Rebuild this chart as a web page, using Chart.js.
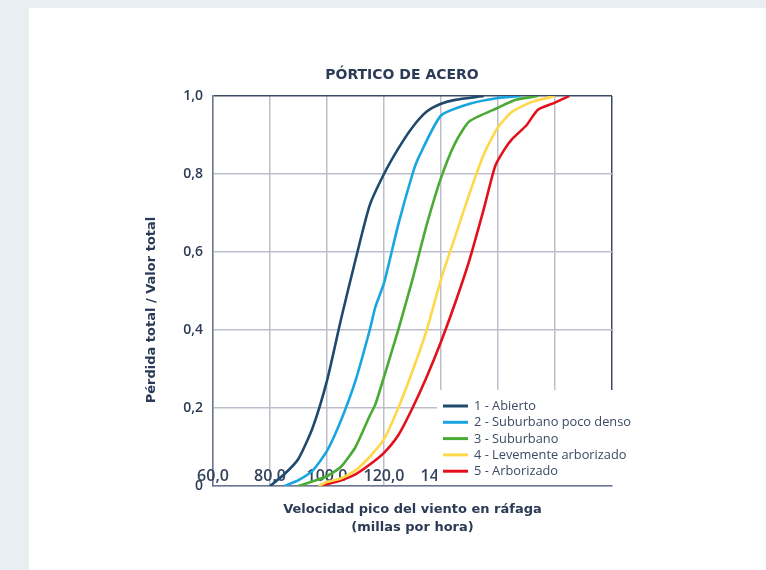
<!DOCTYPE html>
<html>
<head>
<meta charset="utf-8">
<script src="https://cdn.jsdelivr.net/npm/chart.js@4.4.0/dist/chart.umd.min.js"></script>
<style>
  body { margin: 0; background: #e9eef2; }
  #card { position: absolute; left: 29px; top: 8px; width: 737px; height: 562px; background: #fff; }
</style>
</head>
<body>
<div id="card"><canvas id="chart" width="737" height="562"></canvas></div>
<script>
// series labels and colours
const seriesLabels = ['1 - Abierto', '2 - Suburbano poco denso', '3 - Suburbano', '4 - Levemente arborizado', '5 - Arborizado'];
const seriesColors = ['#1f4a6e', '#18a5e0', '#4aab34', '#ffd84a', '#e3101b'];

// wind speed (mph) and loss ratio
const abiertoX = [80, 85, 90, 95, 100, 105, 110, 115, 120, 125, 130, 135, 140, 145, 155];
const abiertoY = [0, 0.03, 0.07, 0.15, 0.27, 0.43, 0.58, 0.72, 0.80, 0.865, 0.92, 0.96, 0.98, 0.99, 1.0];

const pocoDensoX = [85, 90, 95, 100, 105, 110, 115, 117, 120, 125, 130, 132, 140, 150, 160, 168];
const pocoDensoY = [0, 0.015, 0.04, 0.09, 0.17, 0.27, 0.40, 0.46, 0.52, 0.67, 0.80, 0.84, 0.95, 0.98, 0.995, 1.0];

const suburbanoX = [90, 95, 100, 105, 110, 115, 117, 120, 125, 130, 135, 140, 145, 150, 160, 166, 174];
const suburbanoY = [0, 0.012, 0.025, 0.05, 0.10, 0.18, 0.21, 0.28, 0.40, 0.53, 0.67, 0.79, 0.88, 0.935, 0.97, 0.99, 1.0];

const levementeX = [97, 100, 105, 110, 115, 120, 125, 130, 135, 140, 145, 150, 155, 160, 165, 172, 180];
const levementeY = [0, 0.01, 0.02, 0.04, 0.075, 0.12, 0.20, 0.295, 0.40, 0.53, 0.64, 0.75, 0.85, 0.92, 0.96, 0.985, 1.0];

const arborizadoX = [98, 100, 105, 110, 115, 120, 125, 130, 135, 140, 145, 150, 155, 159, 162, 165, 170, 174, 180, 185];
const arborizadoY = [0, 0.005, 0.015, 0.03, 0.055, 0.085, 0.13, 0.20, 0.28, 0.37, 0.47, 0.58, 0.71, 0.82, 0.86, 0.89, 0.925, 0.965, 0.983, 1.0];

const xTicks = [60, 80, 100, 120, 140, 160, 180, 200];
const yTicks = [0, 0.2, 0.4, 0.6, 0.8, 1.0];

const seriesX = [abiertoX, pocoDensoX, suburbanoX, levementeX, arborizadoX];
const seriesY = [abiertoY, pocoDensoY, suburbanoY, levementeY, arborizadoY];

const chartTitle = 'PÓRTICO DE ACERO';
const yTitle = 'Pérdida total / Valor total';

const navy = '#2b3a55';
const gridColor = '#bdbdcc';
const axisColor = '#6b7790';
const fmt = v => v.toFixed(1).replace('.', ',');

const datasets = seriesLabels.map((lab, i) => ({
  label: lab,
  data: seriesX[i].map((x, j) => ({ x: x, y: seriesY[i][j] })),
  borderColor: seriesColors[i],
  backgroundColor: seriesColors[i],
  borderWidth: 2.6,
  pointRadius: 0,
  tension: 0.2,
  fill: false
}));

// title, y title and x tick labels (these sit inside the plot, under the curves)
const innerTexts = {
  id: 'innerTexts',
  beforeDatasetsDraw(chart) {
    const ctx = chart.ctx;
    const sx = chart.scales.x;
    ctx.save();
    ctx.fillStyle = navy;
    ctx.textAlign = 'center';
    ctx.textBaseline = 'middle';
    ctx.font = 'bold 14px "DejaVu Sans"';
    ctx.fillText(chartTitle, 373, 67);

    ctx.save();
    ctx.translate(123, 302);
    ctx.rotate(-Math.PI / 2);
    ctx.font = 'bold 13px "DejaVu Sans"';
    ctx.fillText(yTitle, 0, 0);
    ctx.restore();

    ctx.fillStyle = '#34425c';
    ctx.font = '600 16px "Open Sans"';
    ctx.textBaseline = 'alphabetic';
    sx.ticks.forEach(t => {
      ctx.fillText(fmt(t.value), sx.getPixelForValue(t.value), chart.chartArea.bottom - 5);
    });
    ctx.restore();
  }
};

// legend drawn over the lower right of the plot, with a white box
const boxLegend = {
  id: 'boxLegend',
  afterDraw(chart) {
    const ctx = chart.ctx;
    ctx.save();
    ctx.fillStyle = '#fff';
    ctx.fillRect(408, 382, 215, 95);
    ctx.font = '12.8px "Open Sans"';
    ctx.textBaseline = 'middle';
    chart.data.datasets.forEach((ds, i) => {
      const y = 398 + i * 16.3;
      ctx.strokeStyle = ds.borderColor;
      ctx.lineWidth = 3;
      ctx.beginPath();
      ctx.moveTo(414, y);
      ctx.lineTo(439, y);
      ctx.stroke();
      ctx.fillStyle = '#3c4a63';
      ctx.fillText(ds.label, 445, y + 0.5);
    });
    ctx.restore();
  }
};

new Chart(document.getElementById('chart'), {
  type: 'line',
  data: { datasets: datasets },
  options: {
    responsive: false,
    animation: false,
    layout: { padding: { left: 114, right: 154, top: 88, bottom: 33 } },
    plugins: {
      legend: { display: false },
      tooltip: { enabled: false },
      title: { display: false }
    },
    scales: {
      x: {
        type: 'linear',
        min: 60,
        max: 200,
        afterBuildTicks: s => { s.ticks = xTicks.map(v => ({ value: v })); },
        afterFit: s => { s.height = 51; },
        ticks: { display: false },
        grid: {
          color: ctx => ctx.tick && ctx.tick.value === 200 ? '#3c4a63' : gridColor,
          lineWidth: 1.5,
          drawTicks: false
        },
        border: { color: axisColor, width: 1.5 },
        title: {
          display: true,
          text: ['Velocidad pico del viento en ráfaga', '(millas por hora)'],
          color: navy,
          font: { family: 'DejaVu Sans', size: 13, weight: 'bold', lineHeight: 1.4 },
          padding: { top: 0, bottom: 0 }
        }
      },
      y: {
        min: 0,
        max: 1,
        afterBuildTicks: s => { s.ticks = yTicks.map(v => ({ value: v })); },
        afterFit: s => { s.width = 70; },
        ticks: {
          color: navy,
          padding: 10,
          font: { family: 'Open Sans', size: 14, weight: '600' },
          callback: v => v === 0 ? '0' : fmt(v)
        },
        grid: {
          color: ctx => ctx.tick && ctx.tick.value === 1 ? '#3c4a63' : gridColor,
          lineWidth: 1.5,
          drawTicks: false
        },
        border: { color: axisColor, width: 1.5 },
        title: { display: false }
      }
    }
  },
  plugins: [innerTexts, boxLegend]
});
</script>
</body>
</html>
